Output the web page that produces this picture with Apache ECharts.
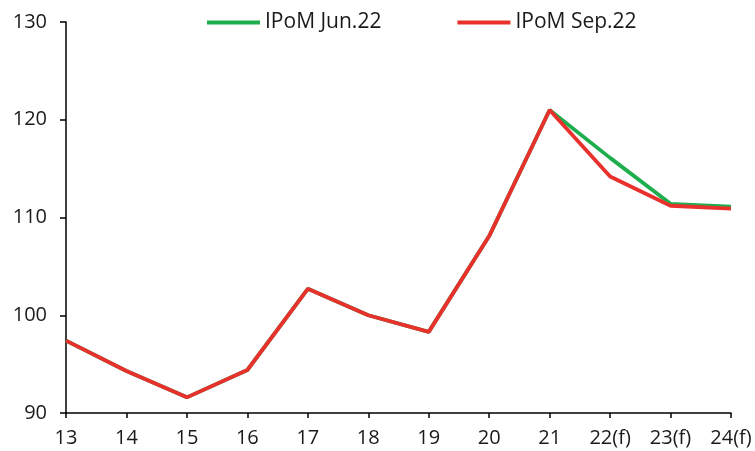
<!DOCTYPE html>
<html>
<head>
<meta charset="utf-8">
<script src="https://cdn.jsdelivr.net/npm/echarts@6/dist/echarts.min.js"></script>
<style>
  html, body { margin: 0; padding: 0; background: #fff; }
  #chart { width: 755px; height: 451px; }
</style>
</head>
<body>
<div id="chart"></div>
<script>
// Categories (years; f = forecast)
const categories = ['13', '14', '15', '16', '17', '18', '19', '20', '21', '22(f)', '23(f)', '24(f)'];
// Index values per report
const ipomJun22 = [97.4, 94.3, 91.6, 94.4, 102.7, 100.0, 98.3, 108.1, 121.0, 116.1, 111.4, 111.1];
const ipomSep22 = [97.4, 94.3, 91.6, 94.4, 102.7, 100.0, 98.3, 108.1, 121.0, 114.2, 111.2, 110.9];
const seriesNames = ['IPoM Jun.22', 'IPoM Sep.22'];
const yMin = 90, yMax = 130, yStep = 10;

const font = '"Open Sans", "Noto Sans", sans-serif';
const chart = echarts.init(document.getElementById('chart'));
chart.setOption({
  animation: false,
  backgroundColor: '#ffffff',
  textStyle: { fontFamily: font },
  legend: {
    top: 12,
    left: 207,
    padding: 0,
    itemWidth: 53,
    itemHeight: 4,
    itemGap: 76,
    icon: 'rect',
    textStyle: { fontSize: 21, color: '#1a1a1a', fontFamily: font },
    data: seriesNames
  },
  grid: { left: 66, right: 24, top: 22, bottom: 38, containLabel: false },
  xAxis: {
    type: 'category',
    data: categories,
    boundaryGap: false,
    axisLine: { lineStyle: { color: '#000', width: 1.5 } },
    axisTick: { show: true, length: 5, lineStyle: { color: '#000', width: 1.5 }, alignWithLabel: true },
    axisLabel: { color: '#1a1a1a', fontSize: 20, margin: 15, fontFamily: font, interval: 0 },
    splitLine: { show: false }
  },
  yAxis: {
    type: 'value',
    min: yMin,
    max: yMax,
    interval: yStep,
    axisLine: { show: true, lineStyle: { color: '#000', width: 1.5 } },
    axisTick: { show: true, length: 6, lineStyle: { color: '#000', width: 1.5 } },
    axisLabel: { color: '#1a1a1a', fontSize: 20, margin: 19, fontFamily: font },
    splitLine: { show: false }
  },
  series: [
    {
      name: seriesNames[0],
      type: 'line',
      data: ipomJun22,
      symbol: 'none',
      color: '#1fae4e',
      lineStyle: { color: '#1fae4e', width: 3.8 }
    },
    {
      name: seriesNames[1],
      type: 'line',
      data: ipomSep22,
      symbol: 'none',
      color: '#e8302c',
      lineStyle: { color: '#e8302c', width: 3.8 }
    }
  ]
});
</script>
</body>
</html>
